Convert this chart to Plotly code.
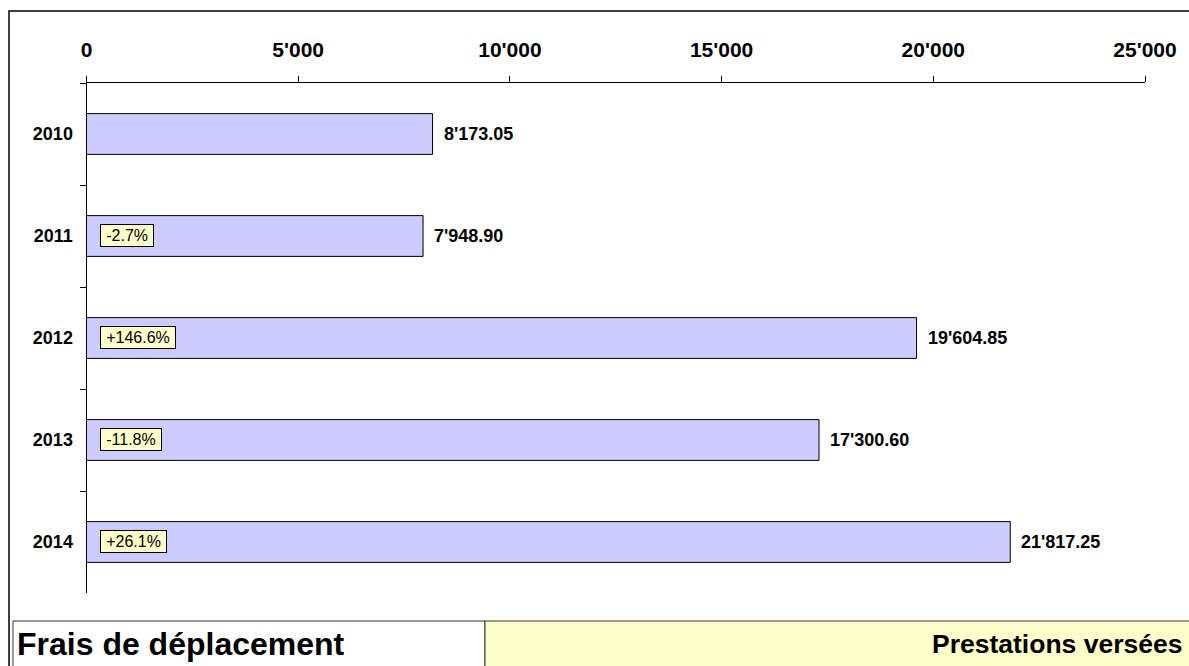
import plotly.graph_objects as go

W, H = 1189, 666

years = ["2010", "2011", "2012", "2013", "2014"]
amounts = [8173.05, 7948.90, 19604.85, 17300.60, 21817.25]
changes = ["", "-2.7%", "+146.6%", "-11.8%", "+26.1%"]
x_ticks = [0, 5000, 10000, 15000, 20000, 25000]

FONT = "Liberation Sans, Arial, sans-serif"


def px_x(p):
    return p / W


def px_y(p):
    return 1 - p / H


fig = go.Figure()
fig.add_trace(go.Bar(
    y=years, x=amounts, orientation="h", width=0.4,
    marker={"color": "#CCCCFF", "line": {"color": "#000000", "width": 1}},
    hoverinfo="skip", showlegend=False,
))

annotations = []
for i, (v, ch) in enumerate(zip(amounts, changes)):
    # amount label to the right of the bar (category index as y)
    annotations.append(dict(
        x=v, y=i, xref="x", yref="y", xanchor="left", xshift=9,
        text="<b>" + f"{v:,.2f}".replace(",", "'") + "</b>",
        showarrow=False, font={"family": FONT, "size": 18, "color": "#000"},
    ))
    if ch:
        annotations.append(dict(
            x=0, y=i, xref="x", yref="y", xanchor="left", xshift=13, yshift=1,
            text="\u2009" + ch + "\u2009", showarrow=False,
            font={"family": FONT, "size": 16, "color": "#000"},
            bgcolor="#FFFFCC", bordercolor="#000", borderwidth=1, borderpad=2,
        ))

annotations.append(dict(
    x=px_x(15), y=px_y(644), xref="paper", yref="paper", xanchor="left", yanchor="middle",
    text="<b>Frais de déplacement</b>", showarrow=False,
    font={"family": FONT, "size": 32, "color": "#000"},
))
annotations.append(dict(
    x=px_x(1184), y=px_y(644), xref="paper", yref="paper", xanchor="right", yanchor="middle",
    text="<b>Prestations versées</b>", showarrow=False,
    font={"family": FONT, "size": 26.5, "color": "#000"},
))

shapes = [
    # outer frame
    dict(type="rect", xref="paper", yref="paper", x0=px_x(9), x1=1.05, y0=-0.05, y1=px_y(11),
         line={"color": "#000", "width": 1.5}, layer="below"),
    # bottom strip
    dict(type="rect", xref="paper", yref="paper", x0=px_x(13), x1=px_x(485), y0=-0.05, y1=px_y(621),
         line={"color": "#333", "width": 1}, fillcolor="#FFFFFF", layer="below"),
    dict(type="rect", xref="paper", yref="paper", x0=px_x(485), x1=1.05, y0=-0.05, y1=px_y(621),
         line={"color": "#333", "width": 1}, fillcolor="#FFFFCC", layer="below"),
]

fig.update_layout(
    width=W, height=H, autosize=False,
    margin={"l": 0, "r": 0, "t": 0, "b": 0, "autoexpand": False},
    paper_bgcolor="#FFFFFF", plot_bgcolor="rgba(0,0,0,0)",
    separators=".'",
    font={"family": FONT, "color": "#000"},
    annotations=annotations, shapes=shapes,
    xaxis=dict(
        domain=[px_x(86.5), px_x(1145)], range=[0, 25000], side="top", automargin=False,
        tickvals=x_ticks, tickformat=",d", showgrid=False, zeroline=False,
        showline=True, linecolor="#000", linewidth=1,
        ticks="outside", ticklen=6, tickcolor="#000", tickwidth=1,
        tickfont={"family": FONT, "size": 21, "weight": "bold"},
        ticklabelstandoff=11,
    ),
    yaxis=dict(
        domain=[px_y(593), px_y(83)], range=[4.5, -0.5], type="category", automargin=False,
        showgrid=False, zeroline=False, showline=True, linecolor="#000", linewidth=1,
        ticks="outside", ticklen=6, tickcolor="#000", tickwidth=1, tickson="boundaries",
        tickfont={"family": FONT, "size": 18, "weight": "bold"},
        ticklabelstandoff=9,
    ),
)

fig.write_html(
    "out.html",
    config={"responsive": False, "displayModeBar": False},
    default_width="1189px", default_height="666px",
    post_script="document.body.style.margin='0';document.body.style.overflow='hidden';",
)
